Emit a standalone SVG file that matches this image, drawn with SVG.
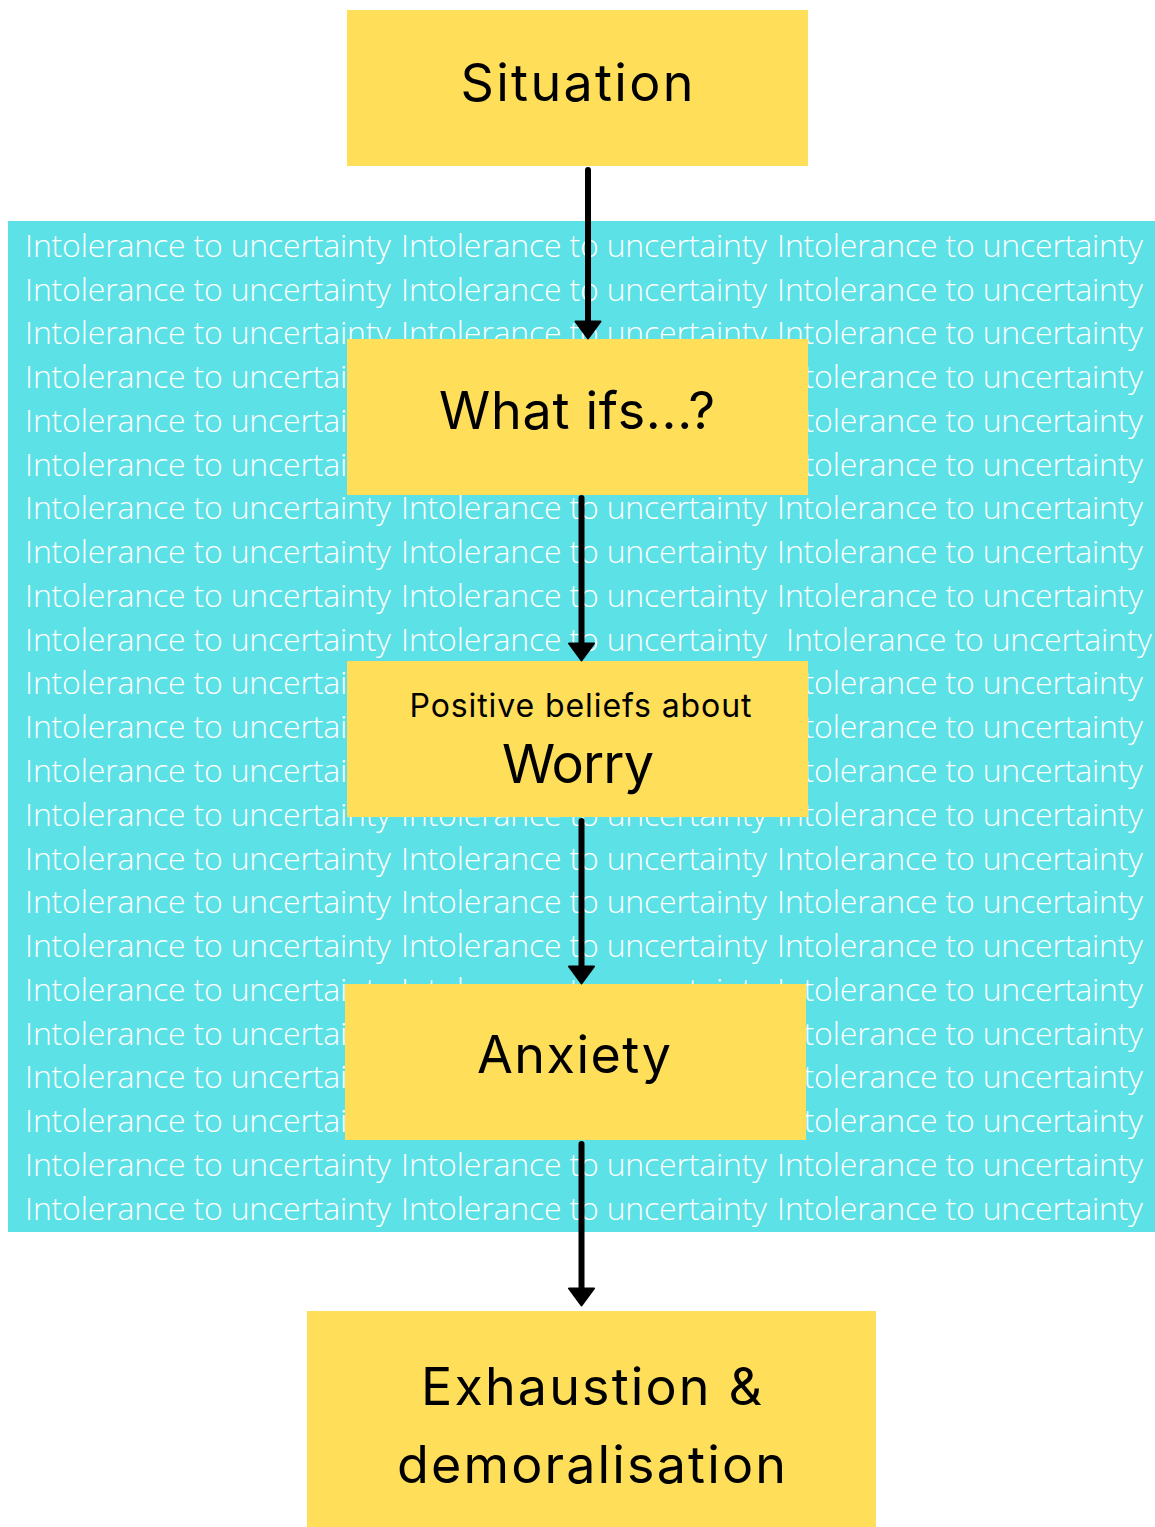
<svg xmlns="http://www.w3.org/2000/svg" width="1155" height="1527" viewBox="0 0 1155 1527">
<style>
.bgt{font-family:"Open Sans","Liberation Sans",sans-serif;font-weight:300;font-size:32px;fill:#ffffff}
.box{fill:#ffde59}
.lbl{font-family:Inter,"Liberation Sans",sans-serif;fill:#000000;text-anchor:middle}
.big{font-size:52px}
.conn{stroke:#000;stroke-width:6;stroke-linecap:round;fill:none}
</style>
<defs>
<marker id="ah" viewBox="0 0 20 28" markerUnits="userSpaceOnUse" markerWidth="20" markerHeight="28" refX="12" refY="14" orient="auto">
<path d="M1.5,1.5 L18.5,14 L1.5,26.5 Z" fill="#000" stroke="#000" stroke-width="2" stroke-linejoin="round"/>
</marker>
</defs>
<rect x="0" y="0" width="1155" height="1527" fill="#ffffff"/>
<g id="background">
<rect x="8" y="221" width="1147" height="1011" fill="#5ce1e6"/>
<g class="bgt">
<text y="256.7"><tspan x="25" textLength="366">Intolerance to uncertainty</tspan><tspan x="401" textLength="366">Intolerance to uncertainty</tspan><tspan x="777" textLength="366">Intolerance to uncertainty</tspan></text>
<text y="300.5"><tspan x="25" textLength="366">Intolerance to uncertainty</tspan><tspan x="401" textLength="366">Intolerance to uncertainty</tspan><tspan x="777" textLength="366">Intolerance to uncertainty</tspan></text>
<text y="344.2"><tspan x="25" textLength="366">Intolerance to uncertainty</tspan><tspan x="401" textLength="366">Intolerance to uncertainty</tspan><tspan x="777" textLength="366">Intolerance to uncertainty</tspan></text>
<text y="388.0"><tspan x="25" textLength="366">Intolerance to uncertainty</tspan><tspan x="401" textLength="366">Intolerance to uncertainty</tspan><tspan x="777" textLength="366">Intolerance to uncertainty</tspan></text>
<text y="431.8"><tspan x="25" textLength="366">Intolerance to uncertainty</tspan><tspan x="401" textLength="366">Intolerance to uncertainty</tspan><tspan x="777" textLength="366">Intolerance to uncertainty</tspan></text>
<text y="475.5"><tspan x="25" textLength="366">Intolerance to uncertainty</tspan><tspan x="401" textLength="366">Intolerance to uncertainty</tspan><tspan x="777" textLength="366">Intolerance to uncertainty</tspan></text>
<text y="519.3"><tspan x="25" textLength="366">Intolerance to uncertainty</tspan><tspan x="401" textLength="366">Intolerance to uncertainty</tspan><tspan x="777" textLength="366">Intolerance to uncertainty</tspan></text>
<text y="563.1"><tspan x="25" textLength="366">Intolerance to uncertainty</tspan><tspan x="401" textLength="366">Intolerance to uncertainty</tspan><tspan x="777" textLength="366">Intolerance to uncertainty</tspan></text>
<text y="606.9"><tspan x="25" textLength="366">Intolerance to uncertainty</tspan><tspan x="401" textLength="366">Intolerance to uncertainty</tspan><tspan x="777" textLength="366">Intolerance to uncertainty</tspan></text>
<text y="650.6"><tspan x="25" textLength="366">Intolerance to uncertainty</tspan><tspan x="401" textLength="366">Intolerance to uncertainty</tspan><tspan x="786" textLength="366">Intolerance to uncertainty</tspan></text>
<text y="694.4"><tspan x="25" textLength="366">Intolerance to uncertainty</tspan><tspan x="401" textLength="366">Intolerance to uncertainty</tspan><tspan x="777" textLength="366">Intolerance to uncertainty</tspan></text>
<text y="738.2"><tspan x="25" textLength="366">Intolerance to uncertainty</tspan><tspan x="401" textLength="366">Intolerance to uncertainty</tspan><tspan x="777" textLength="366">Intolerance to uncertainty</tspan></text>
<text y="781.9"><tspan x="25" textLength="366">Intolerance to uncertainty</tspan><tspan x="401" textLength="366">Intolerance to uncertainty</tspan><tspan x="777" textLength="366">Intolerance to uncertainty</tspan></text>
<text y="825.7"><tspan x="25" textLength="366">Intolerance to uncertainty</tspan><tspan x="401" textLength="366">Intolerance to uncertainty</tspan><tspan x="777" textLength="366">Intolerance to uncertainty</tspan></text>
<text y="869.5"><tspan x="25" textLength="366">Intolerance to uncertainty</tspan><tspan x="401" textLength="366">Intolerance to uncertainty</tspan><tspan x="777" textLength="366">Intolerance to uncertainty</tspan></text>
<text y="913.2"><tspan x="25" textLength="366">Intolerance to uncertainty</tspan><tspan x="401" textLength="366">Intolerance to uncertainty</tspan><tspan x="777" textLength="366">Intolerance to uncertainty</tspan></text>
<text y="957.0"><tspan x="25" textLength="366">Intolerance to uncertainty</tspan><tspan x="401" textLength="366">Intolerance to uncertainty</tspan><tspan x="777" textLength="366">Intolerance to uncertainty</tspan></text>
<text y="1000.8"><tspan x="25" textLength="366">Intolerance to uncertainty</tspan><tspan x="401" textLength="366">Intolerance to uncertainty</tspan><tspan x="777" textLength="366">Intolerance to uncertainty</tspan></text>
<text y="1044.6"><tspan x="25" textLength="366">Intolerance to uncertainty</tspan><tspan x="401" textLength="366">Intolerance to uncertainty</tspan><tspan x="777" textLength="366">Intolerance to uncertainty</tspan></text>
<text y="1088.3"><tspan x="25" textLength="366">Intolerance to uncertainty</tspan><tspan x="401" textLength="366">Intolerance to uncertainty</tspan><tspan x="777" textLength="366">Intolerance to uncertainty</tspan></text>
<text y="1132.1"><tspan x="25" textLength="366">Intolerance to uncertainty</tspan><tspan x="401" textLength="366">Intolerance to uncertainty</tspan><tspan x="777" textLength="366">Intolerance to uncertainty</tspan></text>
<text y="1175.9"><tspan x="25" textLength="366">Intolerance to uncertainty</tspan><tspan x="401" textLength="366">Intolerance to uncertainty</tspan><tspan x="777" textLength="366">Intolerance to uncertainty</tspan></text>
<text y="1219.6"><tspan x="25" textLength="366">Intolerance to uncertainty</tspan><tspan x="401" textLength="366">Intolerance to uncertainty</tspan><tspan x="777" textLength="366">Intolerance to uncertainty</tspan></text>
</g>
</g>
<g id="node-situation">
<rect class="box" x="347" y="10" width="461" height="156"/>
<text class="lbl big" x="577" y="101" textLength="233">Situation</text>
</g>
<g id="node-whatifs">
<rect class="box" x="347" y="339" width="461" height="156"/>
<text class="lbl big" x="577" y="429" textLength="276">What ifs...?</text>
</g>
<g id="node-worry">
<rect class="box" x="347" y="661" width="461" height="156"/>
<text class="lbl" x="580.5" y="717" font-size="32" textLength="342">Positive beliefs about</text>
<text class="lbl" x="578" y="783" font-size="54" textLength="152">Worry</text>
</g>
<g id="node-anxiety">
<rect class="box" x="345" y="984" width="461" height="156"/>
<text class="lbl big" x="574" y="1073" textLength="194">Anxiety</text>
</g>
<g id="node-exhaustion">
<rect class="box" x="307" y="1311" width="569" height="216"/>
<text class="lbl big" x="591.5" y="1405" textLength="341">Exhaustion &amp;</text>
<text class="lbl big" x="591.5" y="1483" textLength="389">demoralisation</text>
</g>
<g id="connectors">
<line class="conn" x1="588" y1="170" x2="588" y2="332" marker-end="url(#ah)"/>
<line class="conn" x1="581.5" y1="498" x2="581.5" y2="654" marker-end="url(#ah)"/>
<line class="conn" x1="581.5" y1="821" x2="581.5" y2="977" marker-end="url(#ah)"/>
<line class="conn" x1="581.5" y1="1144" x2="581.5" y2="1299" marker-end="url(#ah)"/>
</g>
</svg>
